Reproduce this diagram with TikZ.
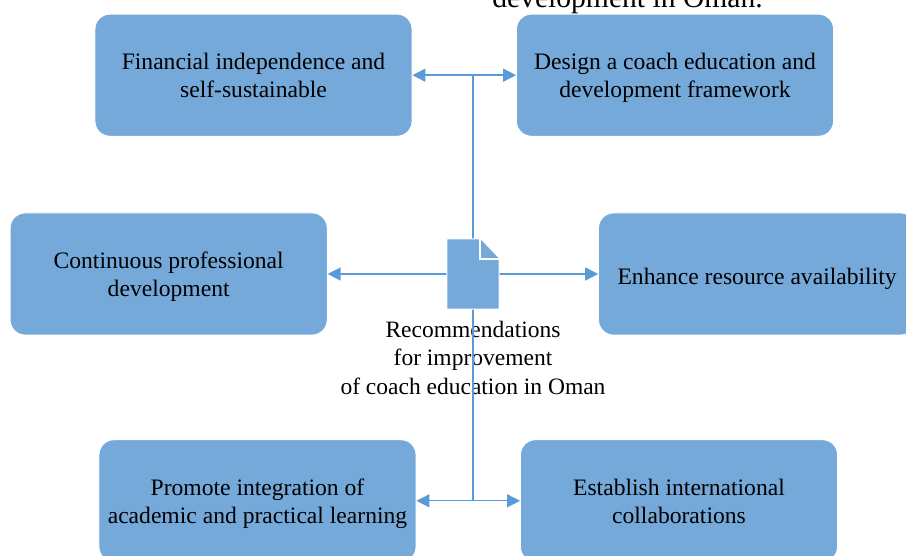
\documentclass[tikz,border=0pt]{standalone}
\usepackage{fontspec}
\setmainfont{Liberation Serif}
\usepackage{xcolor}
\usetikzlibrary{positioning}
\usetikzlibrary{arrows.meta}

\definecolor{boxblue}{RGB}{116,169,218}
\definecolor{lineblue}{RGB}{91,155,213}
\newcommand{\botstrut}{\rule[-3pt]{0pt}{3pt}}

\begin{document}
\begin{tikzpicture}[->,>={Triangle[length=6.5pt,width=6.5pt]},
  every edge/.style={draw=lineblue,line width=0.7pt},
  idea/.style={rectangle,rounded corners=7.5pt,fill=boxblue,draw=white,line width=0.4pt,
    minimum width=158.5pt,minimum height=61pt,inner sep=0pt,align=center,
    font=\fontsize{11.8pt}{13.9pt}\selectfont,
    execute at begin node={\rule{0pt}{#1}},execute at end node=\botstrut},
  idea/.default=25.5pt]
\useasboundingbox (-236.5pt,-141pt) rectangle (216.5pt,137pt);

\node[minimum width=25.8pt,minimum height=34.7pt,inner sep=0pt] (doc) {};
\node[idea] (fin)     [above=51.15pt of doc,xshift=-109.75pt] {Financial independence and\\self-sustainable};
\node[idea] (design)  [above=51.15pt of doc,xshift=101pt]     {Design a coach education and\\development framework};
\node[idea] (cpd)     [left=59.6pt of doc]                    {Continuous professional\\development};
\node[idea=13.4pt] (res) [right=49.5pt of doc]                {Enhance resource availability};
\node[idea] (promote) [below=65.15pt of doc,xshift=-107.75pt] {Promote integration of\\academic and practical learning};
\node[idea] (intl)    [below=65.15pt of doc,xshift=103pt]     {Establish international\\collaborations};
\node[below=5.8pt of doc,align=center,inner sep=0pt,font=\fontsize{11.75pt}{14.25pt}\selectfont] (rec)
  {Recommendations\\for improvement\\of coach education in Oman};
\node[anchor=base,font=\fontsize{14.8pt}{18pt}\selectfont] (title) at (77.25pt,133.25pt) {development in Oman.};

\path (doc |- fin.east) edge[-] (doc |- promote.east)
      (fin.east)     edge[<->] (design.west)
      (promote.east) edge[<->] (intl.west)
      (doc.west)     edge (cpd.east)
      (doc.east)     edge (res.west);

% document icon
\filldraw[-,fill=boxblue,draw=white,line width=0.5pt] (doc.south west) -- (doc.north west)
  -- ([xshift=-9.5pt]doc.north east) -- ([yshift=-10pt]doc.north east) -- (doc.south east) -- cycle;
\filldraw[-,fill=boxblue,draw=white,line width=0.8pt] ([xshift=-9.5pt]doc.north east)
  -- ([xshift=-9.5pt,yshift=-10pt]doc.north east) -- ([yshift=-10pt]doc.north east);
\end{tikzpicture}
\end{document}
